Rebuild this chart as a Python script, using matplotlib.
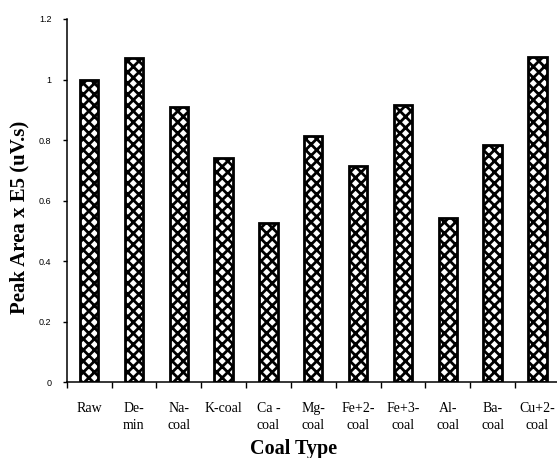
import matplotlib
matplotlib.use("Agg")
import matplotlib.pyplot as plt
import numpy as np

categories = ["Raw", "De-\nmin", "Na-\ncoal", "K-coal", "Ca -\ncoal", "Mg-\ncoal",
              "Fe+2-\ncoal", "Fe+3-\ncoal", "Al-\ncoal", "Ba-\ncoal", "Cu+2-\ncoal"]
values = [1.00, 1.07, 0.91, 0.74, 0.525, 0.815, 0.715, 0.915, 0.543, 0.783, 1.075]
yticks = [0, 0.2, 0.4, 0.6, 0.8, 1, 1.2]
ytick_labels = ["0", "0.2", "0.4", "0.6", "0.8", "1", "1.2"]

plt.rcParams['hatch.linewidth'] = 2.0
plt.rcParams['hatch.color'] = 'black'

W, H = 557, 458
fig = plt.figure(figsize=(W / 100, H / 100), dpi=100)
left = 66.7 / W
bottom = (H - 382.3) / H
height = (382.3 - 19) / H
width = (11 * 44.83) / W
ax = fig.add_axes([left, bottom, width, height])

x = np.arange(len(categories))
ax.bar(x, values, width=0.41, color='white', edgecolor='black', linewidth=2.0,
       hatch='xxx', zorder=2)

ax.set_xlim(-0.5, len(categories) - 0.5)
ax.set_ylim(0, 1.2)

for s in ['top', 'right']:
    ax.spines[s].set_visible(False)
for s in ['left', 'bottom']:
    ax.spines[s].set_linewidth(1.1)
    ax.spines[s].set_color('black')

ax.set_yticks(yticks)
ax.set_yticklabels(ytick_labels, fontsize=6.5, family='Liberation Sans')
ax.tick_params(axis='y', direction='out', length=3, width=1, pad=8)

ax.set_xticks(x)
ax.set_xticklabels(categories, fontsize=10, family='Liberation Serif',
                   linespacing=1.42, va='top')
ax.tick_params(axis='x', which='major', length=0, pad=14)
ax.set_xticks(np.arange(len(categories) + 1) - 0.5, minor=True)
ax.tick_params(axis='x', which='minor', direction='out', length=4, width=1)

fig.text(19.5 / W, 1 - 217 / H, "Peak Area x E5 (uV.s)", rotation=90,
         ha='center', va='center', fontsize=15, fontweight='bold',
         family='Liberation Serif')
fig.text(294 / W, 1 - 454 / H, "Coal Type", ha='center', va='baseline',
         fontsize=14.5, fontweight='bold', family='Liberation Serif')

fig.savefig("out.png", dpi=100)
